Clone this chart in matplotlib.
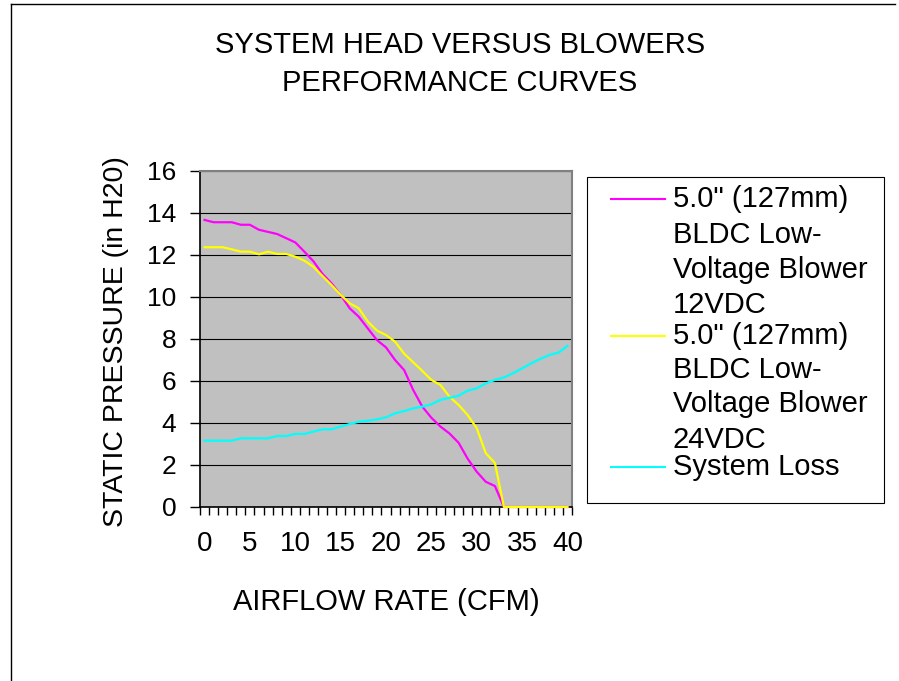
import numpy as np
import matplotlib
matplotlib.use('Agg')
import matplotlib.pyplot as plt
from matplotlib.lines import Line2D
from matplotlib.patches import Rectangle
from matplotlib.ticker import FixedLocator

plt.rcParams['font.family'] = ['Liberation Sans', 'DejaVu Sans']

# Airflow categories (CFM)
airflow = list(range(0, 41))

# 5.0" blower, 12VDC
blower_12v = [13.67, 13.56, 13.56, 13.56, 13.44, 13.44, 13.2, 13.1, 13.0, 12.8,
              12.6, 12.16, 11.7, 11.1, 10.65, 10.1, 9.46, 9.06, 8.5, 7.95,
              7.6, 7.0, 6.52, 5.57, 4.78, 4.25, 3.83, 3.5, 3.06, 2.3,
              1.68, 1.2, 1.0, 0, 0, 0, 0, 0, 0, 0, 0]

# 5.0" blower, 24VDC
blower_24v = [12.37, 12.37, 12.37, 12.27, 12.16, 12.16, 12.03, 12.16, 12.05, 12.05,
              11.92, 11.73, 11.44, 11.0, 10.57, 10.1, 9.7, 9.46, 8.83, 8.4,
              8.19, 7.87, 7.3, 6.89, 6.48, 6.05, 5.81, 5.25, 4.86, 4.38,
              3.75, 2.56, 2.1, 0, 0, 0, 0, 0, 0, 0, 0]

# system head loss
system_loss = [3.16, 3.16, 3.16, 3.16, 3.27, 3.27, 3.27, 3.27, 3.38, 3.38,
               3.48, 3.48, 3.59, 3.7, 3.7, 3.83, 3.95, 4.06, 4.11, 4.17,
               4.27, 4.46, 4.57, 4.7, 4.78, 4.89, 5.1, 5.2, 5.3, 5.54,
               5.65, 5.89, 6.05, 6.17, 6.37, 6.6, 6.84, 7.05, 7.24, 7.35, 7.67]

series_names = ['5.0" (127mm)\nBLDC Low-\nVoltage Blower\n12VDC',
                '5.0" (127mm)\nBLDC Low-\nVoltage Blower\n24VDC',
                'System Loss']
series_colors = ['#FF00FF', '#FFFF00', '#00FFFF']
x_tick_labels = ['0', '5', '10', '15', '20', '25', '30', '35', '40']

W, H = 899, 681


def fx(px):
    return px / W


def fy(py):
    return 1 - py / H


fig = plt.figure(figsize=(W / 100, H / 100), dpi=100)

# outer chart frame (only top and left edges visible)
fig.add_artist(Line2D([fx(11), fx(895)], [fy(4), fy(4)], color='black', lw=1))
fig.add_artist(Line2D([fx(11), fx(11)], [fy(4), fy(681)], color='black', lw=1))

ax = fig.add_axes([fx(200), fy(507), fx(572) - fx(200), fy(171) - fy(507)])
ax.set_facecolor('#C0C0C0')

all_series = [blower_12v, blower_24v, system_loss]
for vals, col in zip(all_series, series_colors):
    ax.plot(airflow, vals, color=col, lw=1.6, clip_on=False, zorder=3)

ax.set_xlim(-0.5, 40.5)
ax.set_ylim(0, 16)

ax.set_yticks(np.arange(0, 17, 2))
ax.yaxis.grid(True, color='black', lw=0.8)
ax.set_axisbelow(True)
ax.tick_params(axis='y', direction='out', length=7, width=1, pad=10, labelsize=19)

ax.set_xticks([int(t) for t in x_tick_labels])
ax.set_xticklabels(x_tick_labels)
ax.xaxis.set_minor_locator(FixedLocator(np.arange(-0.5, 41, 1)))
ax.tick_params(axis='x', which='major', length=0, pad=17, labelsize=20)
ax.tick_params(axis='x', which='minor', direction='out', length=6, width=1)

for side in ['left', 'bottom']:
    ax.spines[side].set_color('black')
    ax.spines[side].set_linewidth(1.2)
for side in ['top', 'right']:
    ax.spines[side].set_color('#808080')
    ax.spines[side].set_linewidth(1.5)

# titles and axis labels
fig.text(fx(460), fy(53), 'SYSTEM HEAD VERSUS BLOWERS', ha='center', va='baseline', fontsize=21)
fig.text(fx(460), fy(91), 'PERFORMANCE CURVES', ha='center', va='baseline', fontsize=21)
fig.text(fx(386), fy(610), 'AIRFLOW RATE (CFM)', ha='center', va='baseline', fontsize=21)
fig.text(fx(123), fy(342), 'STATIC PRESSURE (in H20)', ha='center', va='baseline',
         rotation=90, rotation_mode='anchor', fontsize=20.5)

# legend drawn by hand so the handle sits beside the first text line
fig.add_artist(Rectangle((fx(587), fy(503)), fx(884) - fx(587), fy(177) - fy(503),
                         facecolor='white', edgecolor='black', lw=0.8))
legend_baselines = [[207, 243, 278, 313], [344, 378, 412, 448], [475]]
for name, col, bases in zip(series_names, series_colors, legend_baselines):
    lines = name.split('\n')
    handle_y = bases[0] - 8
    fig.add_artist(Line2D([fx(611), fx(665)], [fy(handle_y), fy(handle_y)], color=col, lw=1.5))
    for txt, b in zip(lines, bases):
        fig.text(fx(673), fy(b), txt, ha='left', va='baseline', fontsize=21)

fig.savefig('out.png', dpi=100)
